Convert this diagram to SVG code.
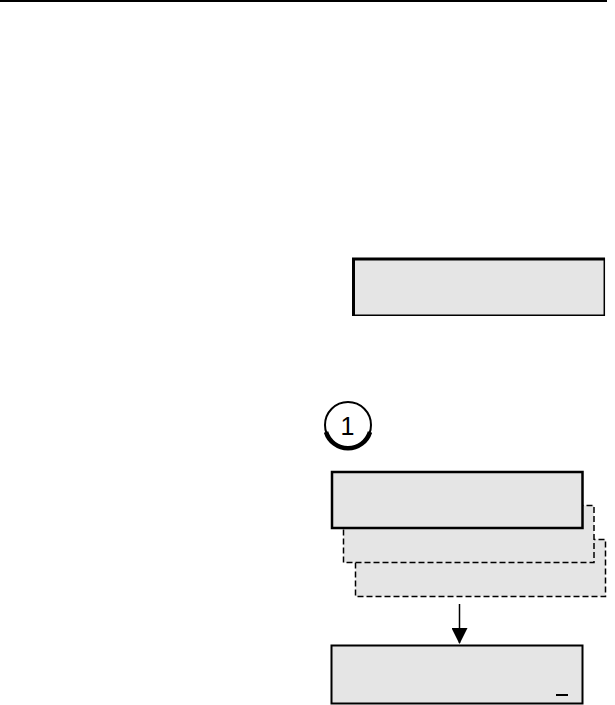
<svg xmlns="http://www.w3.org/2000/svg" width="615" height="705" viewBox="0 0 615 705">
<style>
.fill{fill:#e5e5e5}
.dash{fill:#e5e5e5;stroke:#000;stroke-width:1.5;stroke-dasharray:6 3}
.solid{fill:#e5e5e5;stroke:#000}
</style>
<defs>
<marker id="ah" markerWidth="16" markerHeight="16" refX="15" refY="8" orient="auto" markerUnits="userSpaceOnUse" viewBox="0 0 16 16">
<path d="M0,0 L16,8 L0,16 Z" fill="#000"/>
</marker>
</defs>
<rect width="615" height="705" fill="#fff"/>
<line x1="0" y1="1" x2="607" y2="1" stroke="#000" stroke-width="2"/>
<g id="display1">
<rect class="fill" x="352" y="258" width="253" height="58"/>
<path d="M353.5,316 V259 H605" fill="none" stroke="#000" stroke-width="3"/>
<path d="M604.3,258 V315.3 H352" fill="none" stroke="#000" stroke-width="1.5"/>
</g>
<g id="step1">
<circle cx="348" cy="425" r="23" fill="#fff" stroke="#000" stroke-width="2"/>
<path d="M326,432 A23,23 0 0 0 370,432" fill="none" stroke="#000" stroke-width="4.5"/>
<text x="347.5" y="435" font-family="Liberation Sans, Arial, sans-serif" font-size="25" text-anchor="middle" fill="#000">1</text>
</g>
<g id="screen3">
<rect class="dash" x="355.5" y="539.5" width="250" height="57"/>
</g>
<g id="screen2">
<rect class="dash" x="343.5" y="505.5" width="250.5" height="57"/>
</g>
<g id="screen1">
<rect class="solid" x="332" y="472" width="250.5" height="56" stroke-width="2.5"/>
</g>
<g id="connectors">
<line x1="459.5" y1="604" x2="459.5" y2="643" stroke="#000" stroke-width="1.5" marker-end="url(#ah)"/>
</g>
<g id="display2">
<rect class="solid" x="331.5" y="645.5" width="251" height="58" stroke-width="2"/>
<line x1="556" y1="695" x2="568" y2="695" stroke="#000" stroke-width="2"/>
</g>
</svg>
